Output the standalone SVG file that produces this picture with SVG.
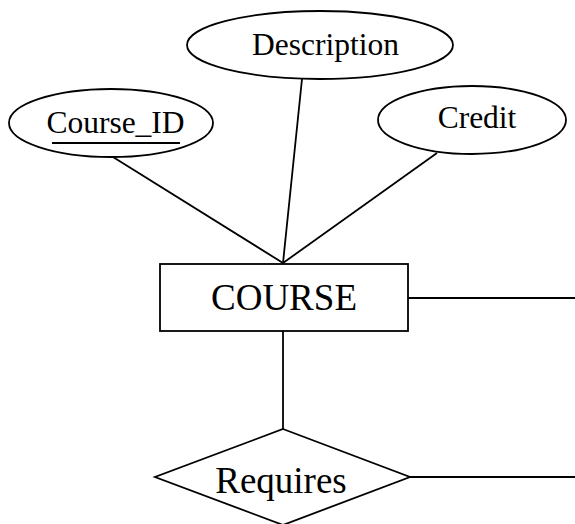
<svg xmlns="http://www.w3.org/2000/svg" width="575" height="524" viewBox="0 0 575 524">
  <style>
    .shape { fill: #ffffff; stroke: #000000; stroke-width: 1.8; }
    .link { stroke: #000000; stroke-width: 1.8; fill: none; }
    .attr { font-family: "Liberation Serif", "Times New Roman", serif; font-size: 31.5px; fill: #000000; text-anchor: middle; }
    .big { font-family: "Liberation Serif", "Times New Roman", serif; font-size: 37px; fill: #000000; text-anchor: middle; }
  </style>
  <rect width="575" height="524" fill="#ffffff"/>

  <!-- connectors -->
  <g id="connectors">
    <line class="link" x1="113" y1="157" x2="283" y2="263"/>
    <line class="link" x1="302" y1="79" x2="283" y2="263"/>
    <line class="link" x1="437" y1="153" x2="283" y2="263"/>
    <line class="link" x1="408" y1="298" x2="575" y2="298"/>
    <line class="link" x1="283" y1="331" x2="283" y2="429"/>
    <line class="link" x1="410" y1="477" x2="575" y2="477"/>
  </g>

  <!-- key attribute -->
  <g id="attr-course-id">
    <ellipse class="shape" cx="111" cy="123" rx="102" ry="34"/>
    <text class="attr" x="115.5" y="133">Course_ID</text>
    <line class="link" x1="52" y1="143" x2="180" y2="143"/>
  </g>

  <g id="attr-description">
    <ellipse class="shape" cx="320" cy="45" rx="133" ry="34"/>
    <text class="attr" x="325.5" y="55">Description</text>
  </g>

  <g id="attr-credit">
    <ellipse class="shape" cx="472" cy="120" rx="94" ry="34"/>
    <text class="attr" x="477" y="128">Credit</text>
  </g>

  <!-- entity -->
  <g id="entity-course">
    <rect class="shape" x="160" y="264" width="248" height="67"/>
    <text class="big" x="284" y="310">COURSE</text>
  </g>

  <!-- relationship -->
  <g id="rel-requires">
    <polygon class="shape" points="283,429 410,477 283,525 155,477"/>
    <text class="big" x="281" y="493">Requires</text>
  </g>
</svg>
